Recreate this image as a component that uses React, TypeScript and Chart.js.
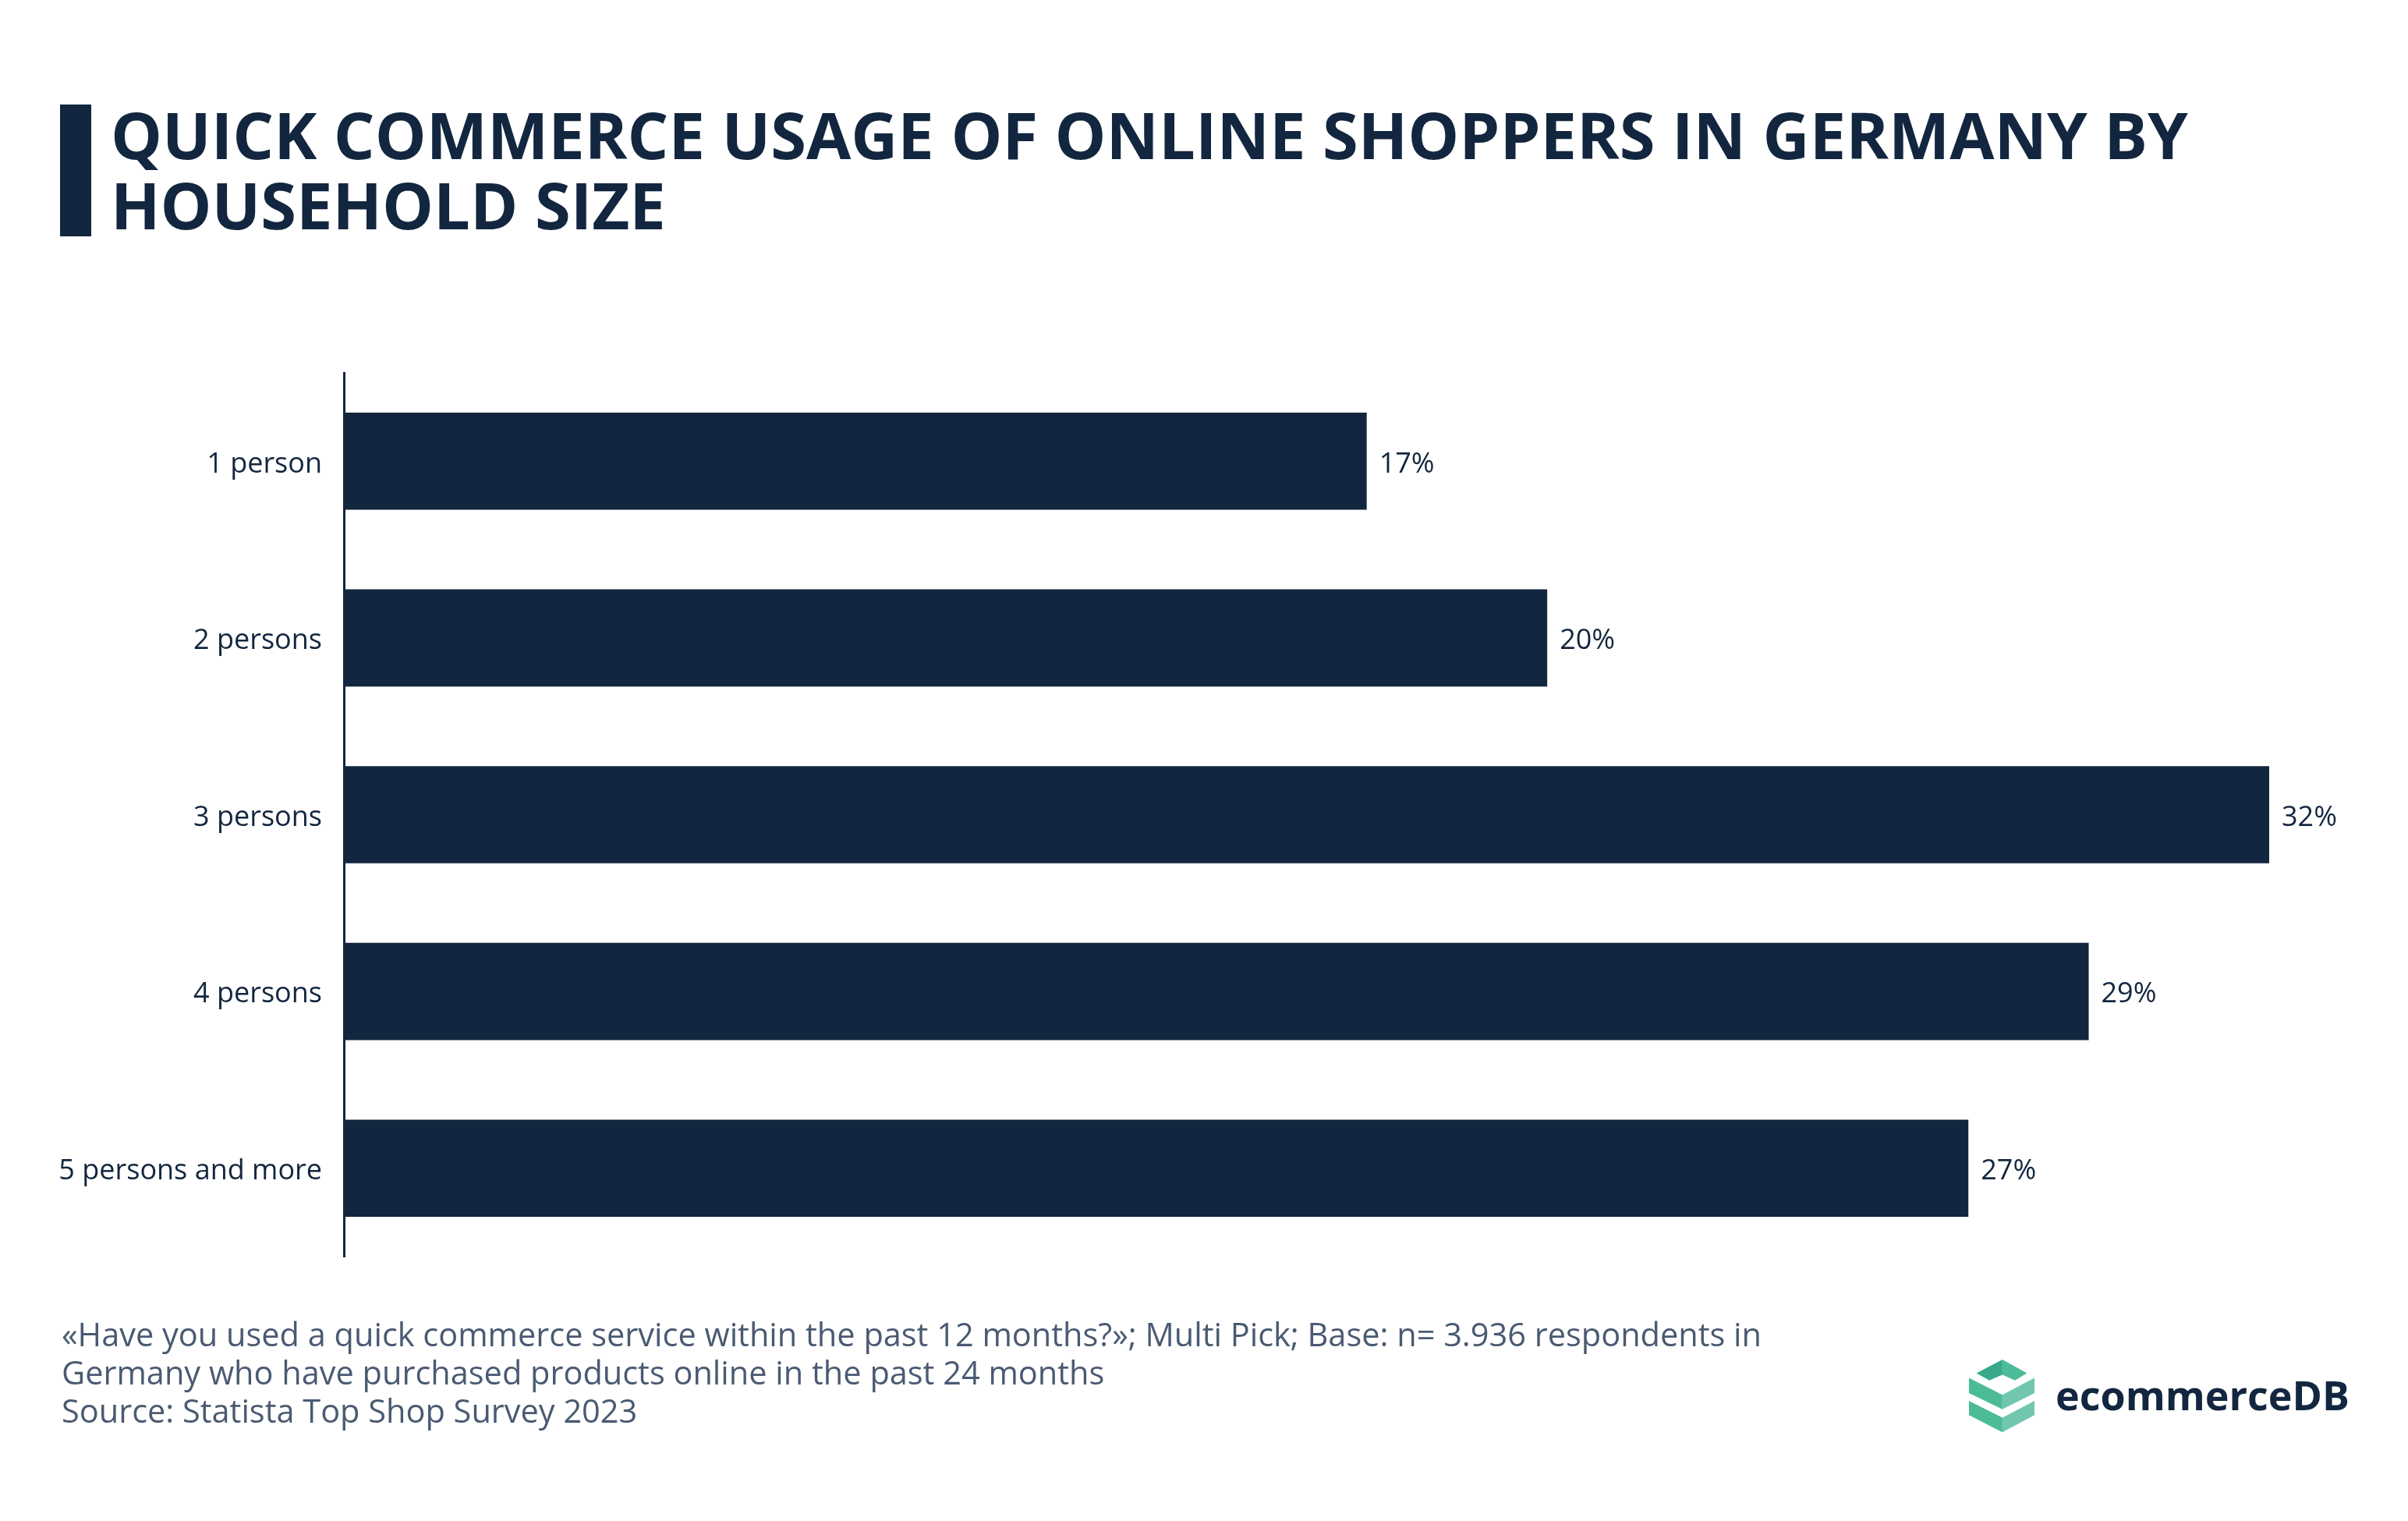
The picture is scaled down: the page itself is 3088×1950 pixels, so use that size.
import React, { useEffect, useRef } from "react";
import { Chart, registerables } from "chart.js";

Chart.register(...registerables);

const titleLines = ["QUICK COMMERCE USAGE OF ONLINE SHOPPERS IN GERMANY BY", "HOUSEHOLD SIZE"];
const categories = ["1 person", "2 persons", "3 persons", "4 persons", "5 persons and more"];
const values = [17, 20, 32, 29, 27];
const valueSuffix = "%";
const xMin = 0;
const xMax = 32;
const footnoteLines = [
  "«Have you used a quick commerce service within the past 12 months?»; Multi Pick; Base: n= 3.936 respondents in",
  "Germany who have purchased products online in the past 24 months",
  "Source: Statista Top Shop Survey 2023",
];
const brand = "ecommerceDB";

const NAVY = "#13263f";
const FOOT = "#4a5a72";
const FONT = "'Open Sans', sans-serif";

const valueLabels = {
  id: "valueLabels",
  afterDatasetsDraw(chart: any) {
    const ctx = chart.ctx;
    const meta = chart.getDatasetMeta(0);
    ctx.save();
    ctx.font = `400 36px ${FONT}`;
    ctx.fillStyle = NAVY;
    ctx.textAlign = "left";
    ctx.textBaseline = "middle";
    meta.data.forEach((bar: any, i: number) => {
      const v = chart.data.datasets[0].data[i];
      ctx.fillText(`${v}${valueSuffix}`, bar.x + 16, bar.y + 4);
    });
    ctx.restore();
  },
};

export default function App() {
  const ref = useRef<HTMLCanvasElement | null>(null);

  useEffect(() => {
    if (!ref.current) return;
    Chart.defaults.font.family = FONT;
    const chart = new Chart(ref.current, {
      type: "bar",
      data: {
        labels: categories,
        datasets: [
          {
            data: values,
            backgroundColor: NAVY,
            borderWidth: 0,
            barPercentage: 0.55,
            categoryPercentage: 1.0,
          },
        ],
      },
      options: {
        indexAxis: "y",
        responsive: false,
        animation: false,
        maintainAspectRatio: false,
        layout: { padding: { top: 478, bottom: 339, left: 0, right: 178 } },
        plugins: { legend: { display: false }, tooltip: { enabled: false } },
        scales: {
          x: { display: false, min: xMin, max: xMax },
          y: {
            afterFit: (scale: any) => {
              scale.width = 441;
            },
            grid: { display: false, drawTicks: false },
            border: { display: true, color: NAVY, width: 3 },
            ticks: {
              padding: 28,
              labelOffset: 4,
              color: NAVY,
              font: { family: FONT, size: 36, weight: "400" as any },
            },
          },
        },
      },
      plugins: [valueLabels],
    });
    return () => chart.destroy();
  }, []);

  return (
    <div
      style={{
        position: "absolute",
        left: 0,
        top: 0,
        width: 3088,
        height: 1950,
        background: "#ffffff",
        overflow: "hidden",
        fontFamily: FONT,
      }}
    >
      <canvas
        ref={ref}
        width={3088}
        height={1950}
        style={{ position: "absolute", left: 0, top: 0, width: 3088, height: 1950, display: "block" }}
      />
      <div style={{ position: "absolute", left: 77, top: 134, width: 40, height: 169, background: NAVY }} />
      <div
        style={{
          position: "absolute",
          left: 142,
          top: 127,
          fontSize: 83,
          fontWeight: 700,
          lineHeight: "90px",
          color: NAVY,
          whiteSpace: "nowrap",
        }}
      >
        {titleLines.map((l, i) => (
          <div key={i}>{l}</div>
        ))}
      </div>
      <div
        style={{
          position: "absolute",
          left: 79,
          top: 1686,
          fontSize: 41.5,
          fontWeight: 400,
          lineHeight: "49px",
          color: FOOT,
          whiteSpace: "nowrap",
        }}
      >
        {footnoteLines.map((l, i) => (
          <div key={i}>{l}</div>
        ))}
      </div>
      <svg
        style={{ position: "absolute", left: 2525, top: 1743 }}
        width={84}
        height={94}
        viewBox="125 100 235 280"
        preserveAspectRatio="none"
      >
        <polygon points="152,152 245,100 245,158 198,180" fill="#38a98b" />
        <polygon points="245,100 333,152 290,180 245,158" fill="#4dbb99" />
        <polygon points="125,170 245,235 245,290 125,228" fill="#4cbb98" />
        <polygon points="245,235 360,170 360,228 245,290" fill="#72c6b0" />
        <polygon points="125,258 245,322 245,378 125,312" fill="#4cbb98" />
        <polygon points="245,322 360,258 360,312 245,378" fill="#72c6b0" />
      </svg>
      <div
        style={{
          position: "absolute",
          left: 2636,
          top: 1807 - 53,
          fontSize: 52,
          fontWeight: 700,
          lineHeight: "68px",
          color: NAVY,
          whiteSpace: "nowrap",
        }}
      >
        {brand}
      </div>
    </div>
  );
}
